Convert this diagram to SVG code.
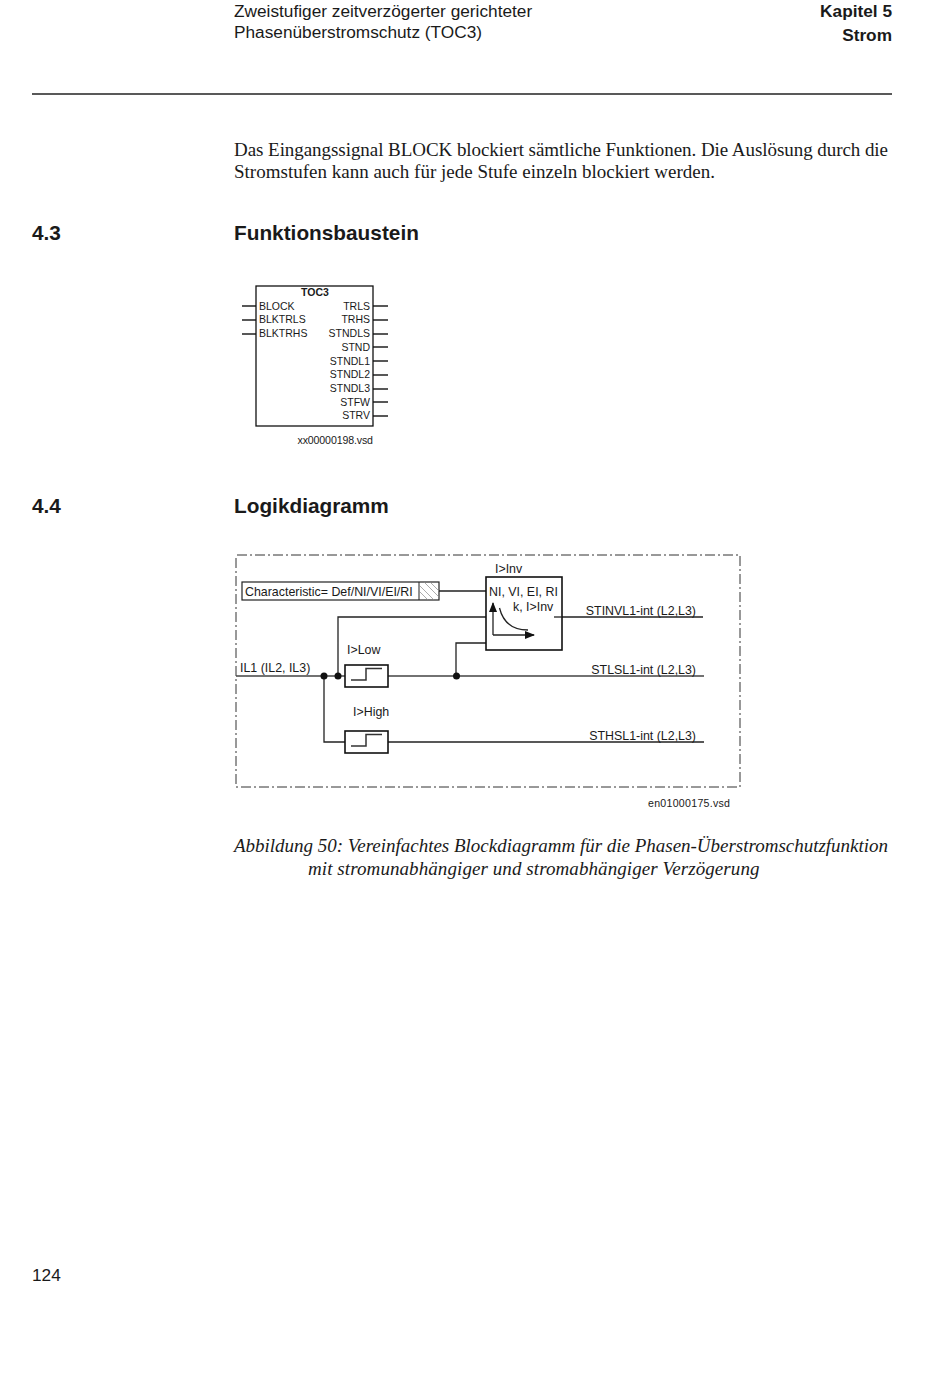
<svg xmlns="http://www.w3.org/2000/svg" width="950" height="1378" viewBox="0 0 950 1378">
<style>
text{font-family:"Liberation Sans",Arial,sans-serif;fill:#1a1a1a}
.hd{font-size:17.25px}
.b{font-weight:bold}
.h2{font-size:20.8px;font-weight:bold}
.s{font-family:"Liberation Serif","Times New Roman",serif;font-size:19px}
.i{font-family:"Liberation Serif","Times New Roman",serif;font-size:19px;font-style:italic}
.f{font-size:10.5px}
.v{font-size:10.6px}
.d{font-size:12.4px}
.e{text-anchor:end}
.ln{fill:none;stroke:#222;stroke-width:1.3}
.hv{fill:none;stroke:#444;stroke-width:1.7}
.dash{fill:none;stroke:#333;stroke-width:1;stroke-dasharray:10 3 2 3}
.box{fill:#fff;stroke:#111;stroke-width:1.6}
.dot{fill:#111}
</style>
<defs>
<marker id="ah" markerWidth="10" markerHeight="8" refX="9" refY="4" orient="auto" markerUnits="userSpaceOnUse"><path d="M0 0L10 4L0 8Z" fill="#111"/></marker>
<symbol id="step" overflow="visible"><path fill="none" stroke="#333" stroke-width="1.5" d="M6 15H21V3.500H37"/></symbol>
</defs>
<rect width="950" height="1378" fill="#fff"/>
<g id="page-header">
<text class="hd" x="234" y="17">Zweistufiger zeitverzögerter gerichteter</text>
<text class="hd" x="234" y="38">Phasenüberstromschutz (TOC3)</text>
<text class="hd b e" x="892" y="17">Kapitel 5</text>
<text class="hd b e" x="892" y="41">Strom</text>
<path d="M32 94H892" stroke="#222" stroke-width="1.3"/>
</g>
<g id="body">
<text class="s" x="234" y="156" textLength="654">Das Eingangssignal BLOCK blockiert sämtliche Funktionen. Die Auslösung durch die</text>
<text class="s" x="234" y="178" textLength="481">Stromstufen kann auch für jede Stufe einzeln blockiert werden.</text>
<text class="h2" x="32" y="240">4.3</text>
<text class="h2" x="234" y="240">Funktionsbaustein</text>
<text class="h2" x="32" y="513">4.4</text>
<text class="h2" x="234" y="513">Logikdiagramm</text>
</g>
<g id="connectors-toc3">
<path class="ln" d="M242 306H256M242 320H256M242 334H256M373 306H388M373 320H388M373 334H388M373 347H388M373 361H388M373 375H388M373 389H388M373 402H388M373 416H388"/>
</g>
<g id="toc3">
<rect x="256" y="286" width="117" height="140" fill="#fff" stroke="#111" stroke-width="1.3"/>
<text class="f b" x="315" y="296" text-anchor="middle">TOC3</text>
<text class="f" x="259" y="310">BLOCK</text>
<text class="f" x="259" y="323">BLKTRLS</text>
<text class="f" x="259" y="337">BLKTRHS</text>
<text class="f e" x="370" y="310">TRLS</text>
<text class="f e" x="370" y="323">TRHS</text>
<text class="f e" x="370" y="337">STNDLS</text>
<text class="f e" x="370" y="351">STND</text>
<text class="f e" x="370" y="365">STNDL1</text>
<text class="f e" x="370" y="378">STNDL2</text>
<text class="f e" x="370" y="392">STNDL3</text>
<text class="f e" x="370" y="406">STFW</text>
<text class="f e" x="370" y="419">STRV</text>
</g>
<text class="v" x="373" y="444" text-anchor="end" textLength="75.500">xx00000198.vsd</text>
<path id="frame" class="dash" d="M237 555H740V787H236V555"/>
<g id="connectors">
<path class="hv" d="M236 676H345M388 676H704"/>
<path class="ln" d="M324 676V742H345M338 676V617H486M456 676V643H486M388 742H704M438 591H486M554 617H703"/>
<circle class="dot" cx="324" cy="676" r="3.5"/>
<circle class="dot" cx="338" cy="676" r="3.5"/>
<circle class="dot" cx="456.500" cy="676" r="3.5"/>
</g>
<g id="characteristic">
<rect x="242" y="582" width="197" height="18" fill="#fff" stroke="#222" stroke-width="1.2"/>
<path d="M419 582V600" stroke="#222"/>
<path d="M419 585L434 600M419 591L428 600M424 582L439 597M430 582L439 591" stroke="#888" stroke-width=".7"/>
<text class="d" x="245" y="596">Characteristic= Def/NI/VI/EI/RI</text>
</g>
<g id="inv">
<rect x="486" y="577" width="76" height="73" class="box"/>
<path class="ln" d="M554 617H562"/>
<text class="d" x="495" y="573">I&gt;Inv</text>
<text class="d" x="489" y="596">NI, VI, EI, RI</text>
<text class="d" x="513" y="611">k, I&gt;Inv</text>
<path class="ln" d="M493 635V603" marker-end="url(#ah)"/>
<path class="ln" d="M493 635H534" marker-end="url(#ah)"/>
<path class="ln" d="M499.500 608C503 622 512 630 528 630"/>
</g>
<g id="low">
<rect x="345" y="665" width="43" height="22" class="box"/>
<use href="#step" x="345" y="665"/>
<text class="d" x="347" y="654">I&gt;Low</text>
</g>
<g id="high">
<rect x="345" y="731" width="43" height="22" class="box"/>
<use href="#step" x="345" y="731"/>
<text class="d" x="353" y="716">I&gt;High</text>
</g>
<g id="labels">
<text class="d" x="240" y="672">IL1 (IL2, IL3)</text>
<text class="d e" x="696" y="615">STINVL1-int (L2,L3)</text>
<text class="d e" x="696" y="674">STLSL1-int (L2,L3)</text>
<text class="d e" x="696" y="740">STHSL1-int (L2,L3)</text>
<text class="v e" x="730" y="807" textLength="82">en01000175.vsd</text>
</g>
<g id="caption">
<text class="i" x="234" y="852" textLength="654">Abbildung 50: Vereinfachtes Blockdiagramm für die Phasen-Überstromschutzfunktion</text>
<text class="i" x="308" y="875" textLength="451.500">mit stromunabhängiger und stromabhängiger Verzögerung</text>
</g>
<text class="hd" x="32" y="1281">124</text>
</svg>
